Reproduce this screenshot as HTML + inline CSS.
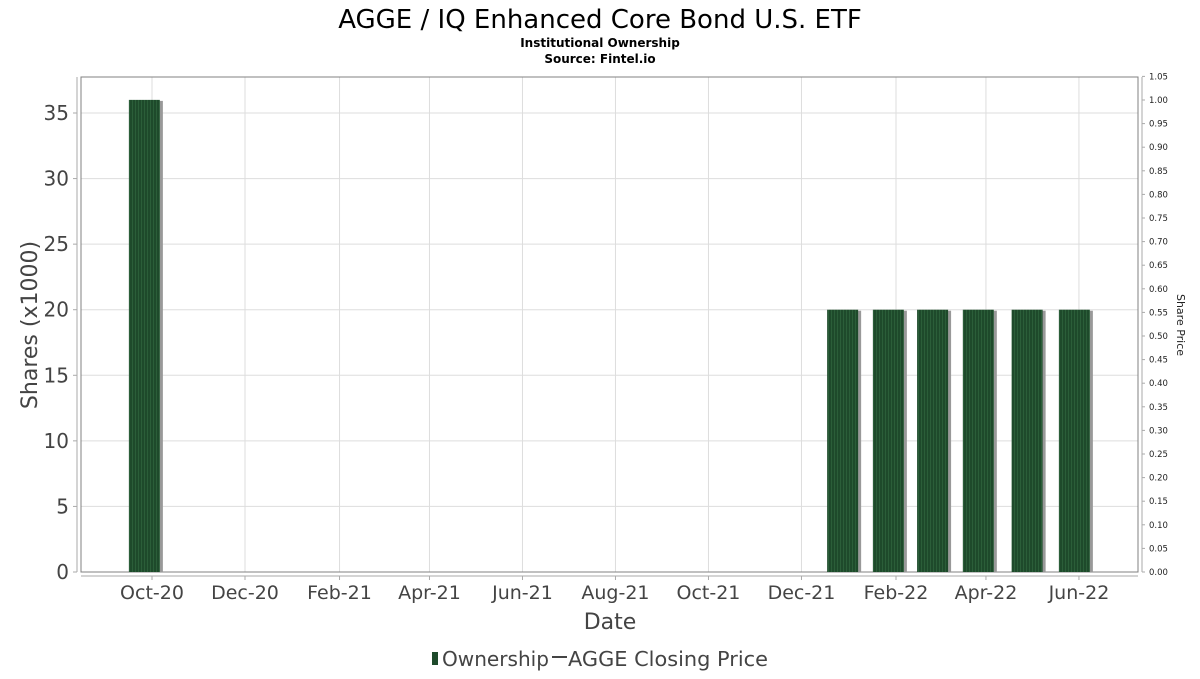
<!DOCTYPE html>
<html><head><meta charset="utf-8"><style>
body{margin:0;background:#fff;font-family:"DejaVu Sans","Liberation Sans",sans-serif}
</style></head><body>
<svg width="1200" height="675" xmlns="http://www.w3.org/2000/svg" style="font-family:'DejaVu Sans','Liberation Sans',sans-serif">
<defs><pattern id="stripe" width="3" height="10" patternUnits="userSpaceOnUse"><rect width="3" height="10" fill="#1e4a2b"/><rect width="1" height="10" fill="#2b5e39"/></pattern></defs>
<text x="600" y="28" text-anchor="middle" font-size="26" fill="#000">AGGE / IQ Enhanced Core Bond U.S. ETF</text>
<text x="600" y="47" text-anchor="middle" font-size="12" font-weight="bold">Institutional Ownership</text>
<text x="600" y="63" text-anchor="middle" font-size="12" font-weight="bold">Source: Fintel.io</text>
<g id="grid"></g>
<rect x="81" y="77" width="1057" height="495" fill="none" stroke="#808080"/>
<line x1="77" y1="77" x2="77" y2="572" stroke="#aaa"/>
<line x1="81" y1="576" x2="1138" y2="576" stroke="#aaa"/>
<line x1="1142" y1="77" x2="1142" y2="572" stroke="#aaa"/>
<g id="bars"></g><g id="axes"></g>
<text transform="translate(37,325) rotate(-90)" text-anchor="middle" font-size="22" fill="#444">Shares (x1000)</text>
<text transform="translate(1177,325) rotate(90)" text-anchor="middle" font-size="11" fill="#222">Share Price</text>
<text x="610" y="629" text-anchor="middle" font-size="22" fill="#444">Date</text>
<g>
<rect x="432" y="652" width="6" height="13" fill="#1e4a2b"/>
<text x="442" y="666" font-size="20" fill="#444" textLength="107" lengthAdjust="spacingAndGlyphs">Ownership</text>
<line x1="552" y1="657" x2="567" y2="657" stroke="#444" stroke-width="2"/>
<text x="568" y="666" font-size="20" fill="#444" textLength="200" lengthAdjust="spacingAndGlyphs">AGGE Closing Price</text>
</g>
</svg>
<script>
const dates=["2020-09-26","2021-12-28","2022-01-27","2022-02-25","2022-03-27","2022-04-28","2022-05-29"];
const shares=[36,20,20,20,20,20,20];
const xTicks=["2020-10-01","2020-12-01","2021-02-01","2021-04-01","2021-06-01","2021-08-01","2021-10-01","2021-12-01","2022-02-01","2022-04-01","2022-06-01"];
const xTickLabels=["Oct-20","Dec-20","Feb-21","Apr-21","Jun-21","Aug-21","Oct-21","Dec-21","Feb-22","Apr-22","Jun-22"];
const yTicks=[0,5,10,15,20,25,30,35];
const y2Ticks=[0,0.05,0.1,0.15,0.2,0.25,0.3,0.35,0.4,0.45,0.5,0.55,0.6,0.65,0.7,0.75,0.8,0.85,0.9,0.95,1.0,1.05];
const NS="http://www.w3.org/2000/svg";
const t0=Date.parse("2020-10-01"), pxDay=93/61;
const x=d=>152+(Date.parse(d)-t0)/864e5*pxDay;
const y=v=>572-v*(572-113)/35;
const y2=v=>572-v*(572-100)/1.0;
function mk(tag,attrs,parent){const e=document.createElementNS(NS,tag);for(const k in attrs)e.setAttribute(k,attrs[k]);document.getElementById(parent).appendChild(e);return e;}
xTicks.forEach((d,i)=>{
 const g=mk('line',{x1:x(d),x2:x(d),y1:77,y2:572,stroke:'#ddd'},'grid');
 
 
 const tk=mk('line',{x1:x(d),x2:x(d),y1:576,y2:580,stroke:'#aaa'},'axes');
 
 
 const t=mk('text',{x:x(d),y:599,'text-anchor':'middle','font-size':19,fill:'#444'},'axes');
 t.textContent=xTickLabels[i];
 
 
});
yTicks.forEach(v=>{
 const g=mk('line',{x1:81,x2:1138,y1:y(v),y2:y(v),stroke:'#ddd'},'grid');
 
 
 const tk=mk('line',{x1:73,x2:77,y1:y(v),y2:y(v),stroke:'#aaa'},'axes');
 
 
 const t=mk('text',{x:69,y:y(v)+7,'text-anchor':'end','font-size':20,fill:'#444'},'axes');
 t.textContent=v;
 
 
});
y2Ticks.forEach(v=>{
 const tk=mk('line',{x1:1142,x2:1145,y1:y2(v),y2:y2(v),stroke:'#aaa'},'axes');
 
 
 const t=mk('text',{x:1149,y:y2(v)+3,'font-size':8.5,fill:'#222'},'axes');
 t.textContent=v.toFixed(2);
 
 
});
dates.forEach((d,i)=>{
 const cx=x(d), w=31, top=y(shares[i]);
 const s=mk('rect',{x:cx-w/2+3,y:top+1,width:w,height:572-top-1,fill:'#999'},'bars');
 
 
 const b=mk('rect',{x:cx-w/2,y:top,width:w,height:572-top,fill:'url(#stripe)'},'bars');
 
 
});
</script>
</body></html>
